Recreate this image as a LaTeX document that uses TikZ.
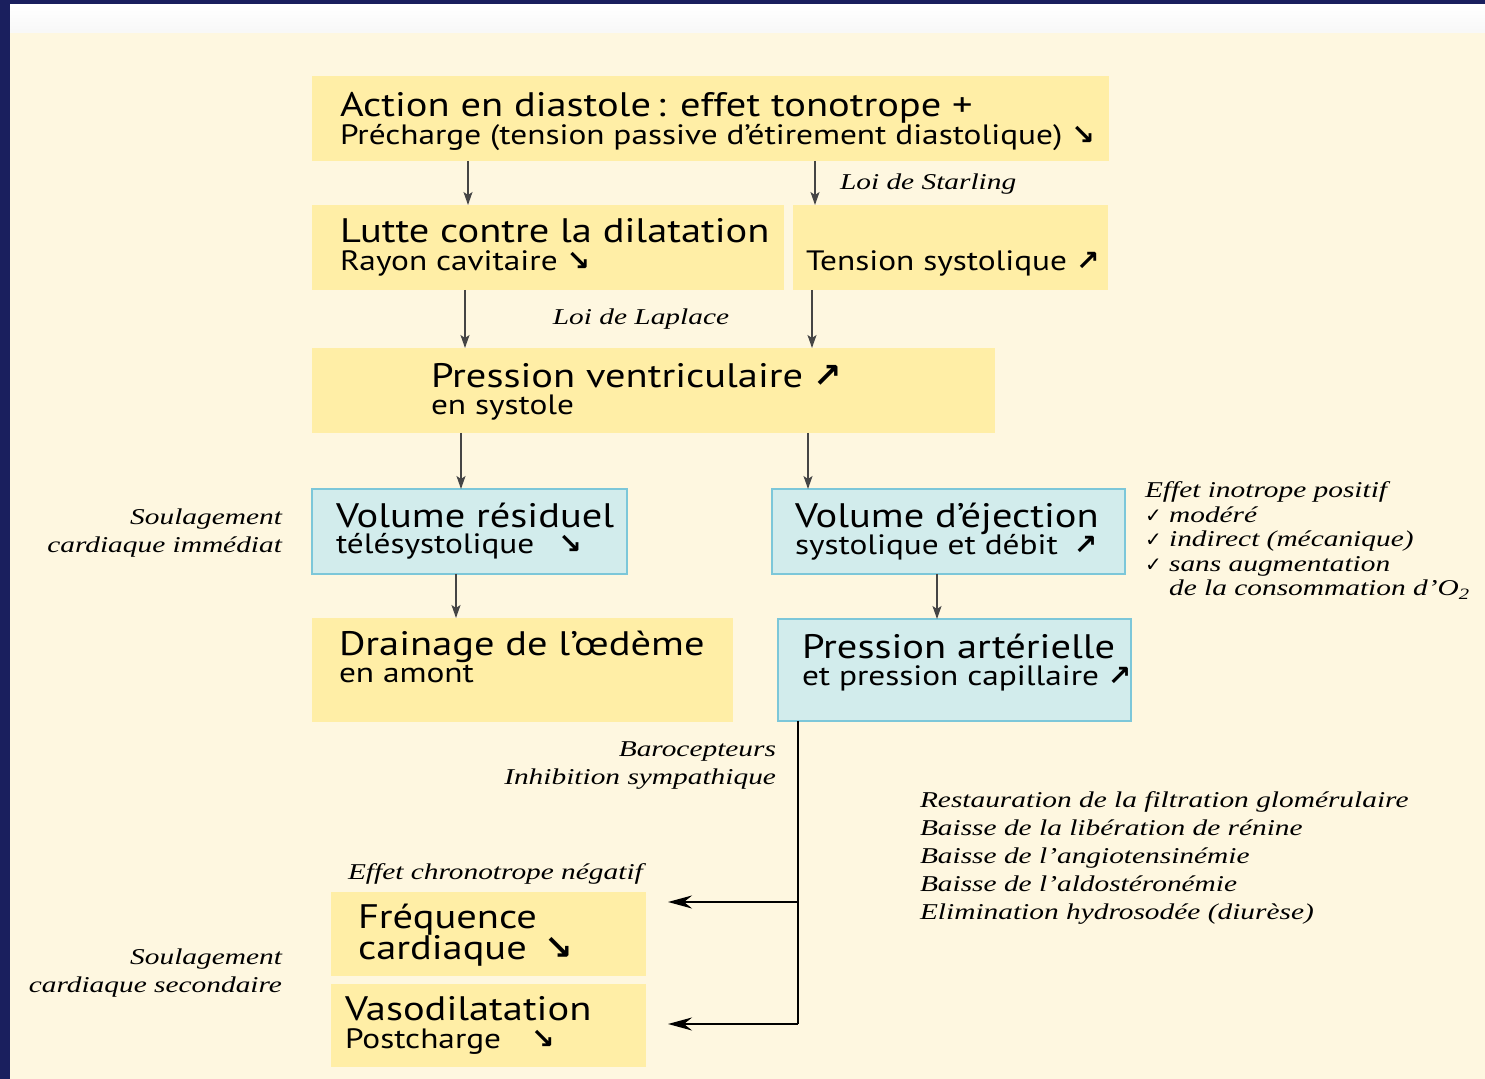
\documentclass[tikz,border=0pt]{standalone}
\usepackage{fontspec}
\usetikzlibrary{arrows.meta}
\setmainfont{Liberation Serif}[FakeStretch=1.3]
\newfontfamily\bxf{PT Sans}[FakeStretch=1.19]
\newfontfamily\symf{DejaVu Sans}
\definecolor{navy}{HTML}{1A1F5E}
\definecolor{cream}{HTML}{FEF7E0}
\definecolor{boxy}{HTML}{FFEEA6}
\definecolor{boxb}{HTML}{D2ECEC}
\definecolor{boxbl}{HTML}{7CC7D9}
\definecolor{arrg}{HTML}{454545}
\newcommand\bx[6]{\node[#6, minimum width={(#4-#2)*0.5pt}, minimum height={(#5-#3)*0.5pt}] (#1) at ({(#2+#4)/2},{(#3+#5)/2}) {};}
\newcommand\dn{{\symf\bfseries ↘}}
\newcommand\up{{\symf\bfseries ↗}}
\newcommand\ck{{\symf\fontsize{10}{10}\selectfont ✓}}
\begin{document}
\begin{tikzpicture}[x=0.5pt,y=-0.5pt,
  every node/.style={inner sep=0pt, outer sep=0pt},
  ybox/.style={fill=boxy, rectangle},
  bbox/.style={fill=boxb, draw=boxbl, line width=1pt, rectangle},
  big/.style={anchor=base west, font=\bxf\fontsize{17}{18}\selectfont},
  small/.style={anchor=base west, font=\bxf\fontsize{14}{15}\selectfont},
  it/.style={font=\itshape\fontsize{11.3}{14}\selectfont},
  arr/.style={draw=arrg, line width=0.75pt, -{Stealth[length=6.5pt,width=4.5pt,inset=1.5pt]}},
  barr/.style={draw=black, line width=0.9pt, -{Stealth[length=12pt,width=6.5pt,inset=4pt]}}]
\useasboundingbox (0,0) rectangle (1485,1079);
\fill[navy] (0,0) rectangle (1485,1079);
\shade[top color=white, bottom color=white!97!black] (10,5) rectangle (1485,33);
\fill[cream] (10,33) rectangle (1485,1079);
% boxes
\bx{act}{312}{76}{1109}{161}{ybox}
\bx{lut}{312}{205}{784}{290}{ybox}
\bx{ten}{793}{205}{1108}{290}{ybox}
\bx{pv}{312}{348}{995}{433}{ybox}
\bx{vr}{312}{489}{627}{574}{bbox}
\bx{ve}{772}{489}{1125}{574}{bbox}
\bx{dr}{312}{618}{733}{722}{ybox}
\bx{pa}{778}{619}{1131}{721}{bbox}
\bx{fc}{331}{892}{646}{976}{ybox}
\bx{vd}{331}{984}{646}{1067}{ybox}
% box texts
\node[big] (t1a) at (340,117) {Action en diastole\,: effet tonotrope +};
\node[small] (t1b) at (340,145) {Précharge (tension passive d’étirement diastolique) \dn};
\node[big] (t2a) at (340,243) {Lutte contre la dilatation};
\node[small] (t2b) at (340,271) {Rayon cavitaire \dn};
\node[small] (t3) at (806,271) {Tension systolique \up};
\node[big] (t4a) at (431,388) {Pression ventriculaire \up};
\node[small] (t4b) at (431,415) {en systole};
\node[big] (t5a) at (336,528) {Volume résiduel};
\node[small] (t5b) at (336,554) {télésystolique\hspace{12pt}\dn};
\node[big] (t6a) at (795,528) {Volume d’éjection};
\node[small] (t6b) at (795,555) {systolique et débit\hspace{8pt}\up};
\node[big] (t7a) at (339,656) {Drainage de l’œdème};
\node[small] (t7b) at (339,683) {en amont};
\node[big] (t8a) at (802,659) {Pression artérielle};
\node[small] (t8b) at (802,686) {et pression capillaire \up};
\node[big] (t9a) at (358,929) {Fréquence};
\node[big] (t9b) at (358,960) {cardiaque\hspace{9pt}\dn};
\node[big] (t10a) at (345,1021) {Vasodilatation};
\node[small] (t10b) at (345,1049) {Postcharge\hspace{15pt}\dn};
% italic labels
\node[it, anchor=base west] (ls) at (840,190) {Loi de Starling};
\node[it, anchor=base] (ll) at (641,325) {Loi de Laplace};
\node[it, anchor=base east, align=right] (s1) at (282,553) {Soulagement\\cardiaque immédiat};
\node[it, anchor=base west, align=left, font=\itshape\fontsize{11.3}{12.25}\selectfont] (ei) at (1145,596)
  {Effet inotrope positif\\\ck\ modéré\\\ck\ indirect (mécanique)\\\ck\ sans augmentation\\\phantom{\ck\ }de la consommation d’O\textsubscript{2}};
\node[it, anchor=base east, align=right] (bc) at (776,785) {Barocepteurs\\Inhibition sympathique};
\node[it, anchor=base west] (ec) at (348,880) {Effet chronotrope négatif};
\node[it, anchor=base west, align=left] (rs) at (920,920) {Restauration de la filtration glomérulaire\\Baisse de la libération de rénine\\Baisse de l’angiotensinémie\\Baisse de l’aldostéronémie\\Elimination hydrosodée (diurèse)};
\node[it, anchor=base east, align=right] (s2) at (282,993) {Soulagement\\cardiaque secondaire};
% connectors
\draw[arr] (act.south -| 468,0) -- (lut.north -| 468,0);
\draw[arr] (act.south -| 815,0) -- (ten.north -| 815,0);
\draw[arr] (lut.south -| 465,0) -- (pv.north -| 465,0);
\draw[arr] (ten.south -| 812,0) -- (pv.north -| 812,0);
\draw[arr] (pv.south -| 461,0) -- (vr.north -| 461,0);
\draw[arr] (pv.south -| 808,0) -- (ve.north -| 808,0);
\draw[arr] (vr.south -| 456,0) -- (dr.north -| 456,0);
\draw[arr] (ve.south -| 937,0) -- (pa.north -| 937,0);
\coordinate (j1) at (798,902);
\coordinate (j2) at (798,1024);
\coordinate (e1) at (668,902);
\coordinate (e2) at (668,1024);
\draw[black, line width=0.9pt] (pa.south -| j1) -- (j2);
\draw[barr] (j1) -- (e1);
\draw[barr] (j2) -- (e2);
\end{tikzpicture}
\end{document}
